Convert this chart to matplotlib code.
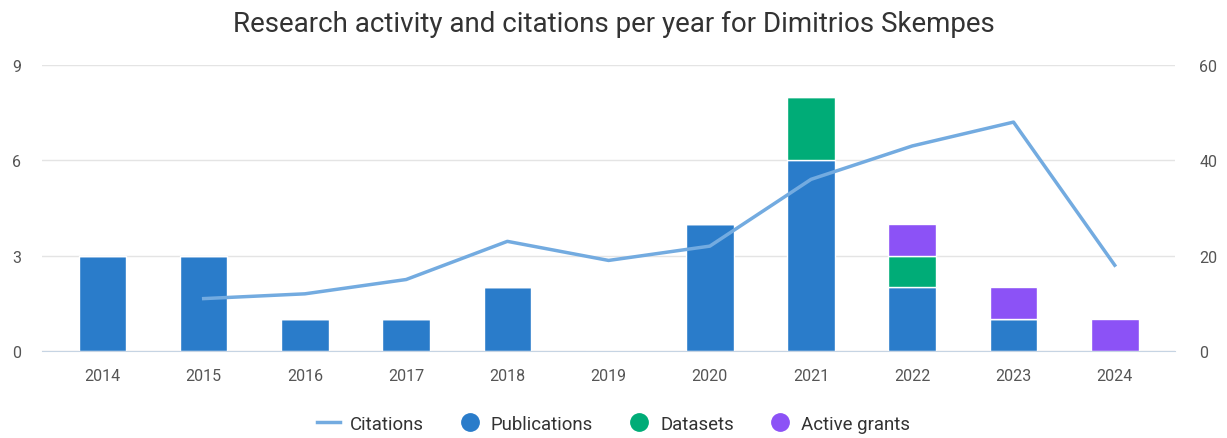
import matplotlib.pyplot as plt
import numpy as np
from matplotlib.lines import Line2D

plt.rcParams['font.family'] = ['Roboto', 'DejaVu Sans']

years = ["2014", "2015", "2016", "2017", "2018", "2019", "2020", "2021", "2022", "2023", "2024"]
publications = [3, 3, 1, 1, 2, 0, 4, 6, 2, 1, 0]
datasets = [0, 0, 0, 0, 0, 0, 0, 2, 1, 0, 0]
grants = [0, 0, 0, 0, 0, 0, 0, 0, 1, 1, 1]
# citations start in 2015
cit_years = years[1:]
citations = [11, 12, 15, 23, 19, 22, 36, 43, 48, 18]

c_pub = "#2a7cca"
c_data = "#00ac77"
c_grant = "#8c52f6"
c_line = "#73abe0"
grey = "#555555"

fig = plt.figure(figsize=(12.27, 4.39), dpi=100)
ax = fig.add_axes([0.034, 0.198, 0.924, 0.652])

x = np.arange(len(years))
pub = np.array(publications)
dat = np.array(datasets)
gr = np.array(grants)
w = 0.47
ax.bar(x, pub, w, color=c_pub, edgecolor="white", linewidth=1, zorder=2)
ax.bar(x, dat, w, bottom=pub, color=c_data, edgecolor="white", linewidth=1, zorder=2)
ax.bar(x, gr, w, bottom=pub + dat, color=c_grant, edgecolor="white", linewidth=1, zorder=2)

ax.set_ylim(0, 9)
ax.set_yticks([0, 3, 6, 9])
ax.set_xlim(-0.6, 10.6)
ax.set_xticks(x)
ax.set_xticklabels(years)
ax.grid(axis="y", color="#e4e4e4", linewidth=1, zorder=0)
ax.set_axisbelow(True)
for s in ["top", "right", "left"]:
    ax.spines[s].set_visible(False)
ax.spines["bottom"].set_color("#c6d4e3")
ax.tick_params(axis="both", length=0, colors=grey, labelsize=11.5)
ax.tick_params(axis="x", pad=12)
ax.tick_params(axis="y", pad=15)

ax2 = ax.twinx()
ax2.plot(x[1:], citations, color=c_line, linewidth=2.5, zorder=3)
ax2.set_ylim(0, 60)
ax2.set_yticks([0, 20, 40, 60])
for s in ["top", "right", "left", "bottom"]:
    ax2.spines[s].set_visible(False)
ax2.tick_params(axis="y", length=0, colors=grey, labelsize=11.5, pad=17)

fig.suptitle("Research activity and citations per year for Dimitrios Skempes",
             x=0.5, y=0.975, fontsize=20, color="#333333")

handles = [
    Line2D([], [], color=c_line, linewidth=2.5),
    Line2D([], [], marker="o", linestyle="", color=c_pub, markersize=12.5),
    Line2D([], [], marker="o", linestyle="", color=c_data, markersize=12.5),
    Line2D([], [], marker="o", linestyle="", color=c_grant, markersize=12.5),
]
fig.legend(handles, ["Citations", "Publications", "Datasets", "Active grants"],
           loc="center", bbox_to_anchor=(0.5, 0.033), ncol=4, frameon=False,
           fontsize=13.4, labelcolor="#333333", handlelength=1.25, columnspacing=1.85,
           handletextpad=0.5)

fig.savefig("out.png", dpi=100)
